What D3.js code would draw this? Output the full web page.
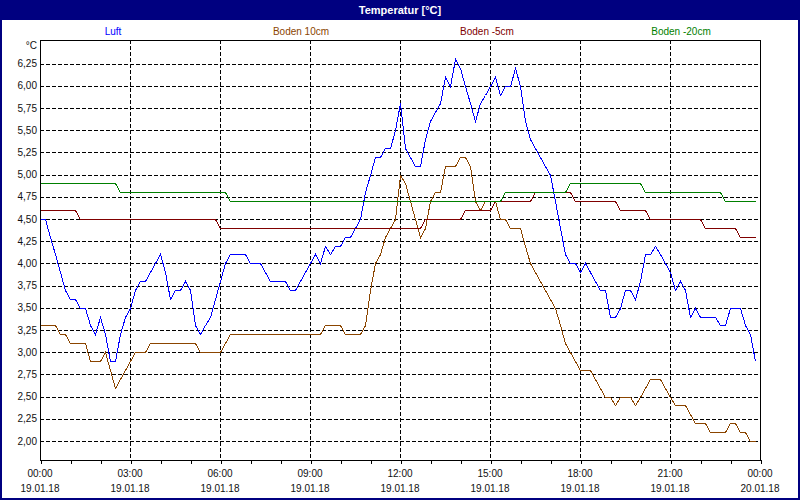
<!DOCTYPE html>
<html>
<head>
<meta charset="utf-8">
<script src="https://cdn.jsdelivr.net/npm/d3@7"></script>
<style>
  html, body { margin: 0; padding: 0; background: #fff; }
  svg { display: block; font-family: "Liberation Sans", Arial, sans-serif; }
</style>
</head>
<body>
<svg id="chart" width="800" height="500"></svg>
<script>
// ---------- data (10-minute samples, 19.01.18 00:00 .. 23:50) ----------
const title = "Temperatur [°C]";
const seriesNames = ["Luft", "Boden 10cm", "Boden -5cm", "Boden -20cm"];
const seriesColors = ["#0000ff", "#8b4500", "#800000", "#008000"];

const luft = [
  4.5,4.5,4.3,4.1,3.9,3.7,3.6,3.6,3.5,3.5,
  3.3,3.2,3.4,3.2,2.9,2.9,3.2,3.4,3.5,3.7,
  3.8,3.8,3.9,4.0,4.1,3.9,3.6,3.7,3.7,3.8,
  3.7,3.3,3.2,3.3,3.4,3.6,3.8,4.0,4.1,4.1,
  4.1,4.1,4.0,4.0,4.0,3.9,3.8,3.8,3.8,3.8,
  3.7,3.7,3.8,3.9,4.0,4.1,4.0,4.2,4.1,4.2,
  4.2,4.3,4.3,4.4,4.5,4.8,5.0,5.2,5.2,5.3,
  5.3,5.5,5.8,5.3,5.2,5.1,5.1,5.4,5.6,5.7,
  5.8,6.1,6.0,6.3,6.2,6.0,5.8,5.6,5.8,5.9,
  6.0,6.1,5.9,6.0,6.0,6.2,6.0,5.6,5.4,5.3,
  5.2,5.1,5.0,4.7,4.4,4.1,4.0,4.0,3.9,4.0,
  3.9,3.8,3.7,3.7,3.4,3.4,3.5,3.7,3.7,3.6,
  3.8,4.1,4.1,4.2,4.1,4.0,3.9,3.7,3.8,3.7,
  3.4,3.5,3.4,3.4,3.4,3.4,3.3,3.3,3.5,3.5,
  3.5,3.3,3.2,2.9
];
const boden10 = [
  3.3,3.3,3.3,3.3,3.2,3.2,3.1,3.1,3.1,3.1,
  2.9,2.9,2.9,3.0,2.8,2.6,2.7,2.8,2.9,3.0,
  3.0,3.0,3.1,3.1,3.1,3.1,3.1,3.1,3.1,3.1,
  3.1,3.1,3.0,3.0,3.0,3.0,3.0,3.1,3.2,3.2,
  3.2,3.2,3.2,3.2,3.2,3.2,3.2,3.2,3.2,3.2,
  3.2,3.2,3.2,3.2,3.2,3.2,3.2,3.3,3.3,3.3,
  3.3,3.2,3.2,3.2,3.2,3.3,3.7,4.0,4.1,4.3,
  4.4,4.5,5.0,4.9,4.7,4.5,4.3,4.4,4.7,4.8,
  4.8,5.1,5.1,5.1,5.2,5.2,5.1,4.7,4.6,4.7,
  4.7,4.7,4.5,4.5,4.4,4.4,4.4,4.2,4.0,3.9,
  3.8,3.7,3.6,3.5,3.3,3.1,3.0,2.9,2.8,2.8,
  2.8,2.7,2.6,2.5,2.5,2.4,2.5,2.5,2.5,2.4,
  2.5,2.6,2.7,2.7,2.7,2.6,2.5,2.4,2.4,2.4,
  2.3,2.2,2.2,2.2,2.1,2.1,2.1,2.1,2.2,2.2,
  2.1,2.1,2.0,2.0
];
const boden5 = [
  4.6,4.6,4.6,4.6,4.6,4.6,4.6,4.6,4.5,4.5,
  4.5,4.5,4.5,4.5,4.5,4.5,4.5,4.5,4.5,4.5,
  4.5,4.5,4.5,4.5,4.5,4.5,4.5,4.5,4.5,4.5,
  4.5,4.5,4.5,4.5,4.5,4.5,4.4,4.4,4.4,4.4,
  4.4,4.4,4.4,4.4,4.4,4.4,4.4,4.4,4.4,4.4,
  4.4,4.4,4.4,4.4,4.4,4.4,4.4,4.4,4.4,4.4,
  4.4,4.4,4.4,4.4,4.4,4.4,4.4,4.4,4.4,4.4,
  4.4,4.4,4.4,4.4,4.4,4.4,4.4,4.5,4.5,4.5,
  4.5,4.5,4.5,4.5,4.5,4.6,4.6,4.6,4.6,4.6,
  4.6,4.7,4.7,4.7,4.7,4.7,4.7,4.7,4.7,4.8,
  4.8,4.8,4.8,4.8,4.8,4.8,4.8,4.7,4.7,4.7,
  4.7,4.7,4.7,4.7,4.7,4.7,4.6,4.6,4.6,4.6,
  4.6,4.6,4.5,4.5,4.5,4.5,4.5,4.5,4.5,4.5,
  4.5,4.5,4.5,4.4,4.4,4.4,4.4,4.4,4.4,4.4,
  4.3,4.3,4.3,4.3
];
const boden20 = [
  4.9,4.9,4.9,4.9,4.9,4.9,4.9,4.9,4.9,4.9,
  4.9,4.9,4.9,4.9,4.9,4.9,4.8,4.8,4.8,4.8,
  4.8,4.8,4.8,4.8,4.8,4.8,4.8,4.8,4.8,4.8,
  4.8,4.8,4.8,4.8,4.8,4.8,4.8,4.8,4.7,4.7,
  4.7,4.7,4.7,4.7,4.7,4.7,4.7,4.7,4.7,4.7,
  4.7,4.7,4.7,4.7,4.7,4.7,4.7,4.7,4.7,4.7,
  4.7,4.7,4.7,4.7,4.7,4.7,4.7,4.7,4.7,4.7,
  4.7,4.7,4.7,4.7,4.7,4.7,4.7,4.7,4.7,4.7,
  4.7,4.7,4.7,4.7,4.7,4.7,4.7,4.7,4.7,4.7,
  4.7,4.7,4.7,4.8,4.8,4.8,4.8,4.8,4.8,4.8,
  4.8,4.8,4.8,4.8,4.8,4.8,4.9,4.9,4.9,4.9,
  4.9,4.9,4.9,4.9,4.9,4.9,4.9,4.9,4.9,4.9,
  4.9,4.8,4.8,4.8,4.8,4.8,4.8,4.8,4.8,4.8,
  4.8,4.8,4.8,4.8,4.8,4.8,4.8,4.7,4.7,4.7,
  4.7,4.7,4.7,4.7
];
const yTicks = [2.00,2.25,2.50,2.75,3.00,3.25,3.50,3.75,4.00,4.25,4.50,4.75,5.00,5.25,5.50,5.75,6.00,6.25];
const xTimeLabels = ["00:00","03:00","06:00","09:00","12:00","15:00","18:00","21:00","00:00"];
const xDateLabels = ["19.01.18","19.01.18","19.01.18","19.01.18","19.01.18","19.01.18","19.01.18","19.01.18","20.01.18"];

// ---------- layout ----------
const W = 800, H = 500;
const pL = 40, pR = 760, pT = 40, pB = 460;
const t0 = new Date(2018, 0, 19, 0, 0);
const t1 = new Date(2018, 0, 20, 0, 0);

const svg = d3.select("#chart");
const x = d3.scaleTime().domain([t0, t1]).range([pL, pR]);
const y = d3.scaleLinear().domain([1.785, 6.515]).range([pB, pT]);

// background & window frame
svg.append("rect").attr("x", 0).attr("y", 0).attr("width", W).attr("height", H).attr("fill", "#fff");
svg.append("rect").attr("x", 0).attr("y", 0).attr("width", W).attr("height", 20).attr("fill", "#000080");
svg.append("rect").attr("x", 0.5).attr("y", 0.5).attr("width", W - 1).attr("height", H - 1)
  .attr("fill", "none").attr("stroke", "#000080").attr("stroke-width", 1);
svg.append("rect").attr("x", 1.5).attr("y", 1.5).attr("width", W - 3).attr("height", H - 3)
  .attr("fill", "none").attr("stroke", "#000080").attr("stroke-width", 1);

svg.append("text").attr("x", W / 2).attr("y", 14).attr("text-anchor", "middle")
  .attr("fill", "#fff").attr("font-weight", "bold").attr("font-size", "11px").text(title);

// legend
const legendX = [113, 301, 487, 681];
svg.append("g").selectAll("text").data(seriesNames).join("text")
  .attr("x", (d, i) => legendX[i]).attr("y", 35).attr("text-anchor", "middle")
  .attr("font-size", "10px").attr("fill", (d, i) => seriesColors[i]).text(d => d);

// gridlines
const grid = svg.append("g").attr("stroke", "#000").attr("stroke-width", 1)
  .attr("stroke-dasharray", "4,2").attr("shape-rendering", "crispEdges");
grid.selectAll("line.h").data(yTicks).join("line").attr("class", "h")
  .attr("x1", pL).attr("x2", pR)
  .attr("y1", d => Math.round(y(d)) + 0.5).attr("y2", d => Math.round(y(d)) + 0.5);
const majorTimes = d3.timeHour.every(3).range(t0, d3.timeMinute.offset(t1, 1));
grid.selectAll("line.v").data(majorTimes.slice(1, -1)).join("line").attr("class", "v")
  .attr("y1", pT).attr("y2", pB)
  .attr("x1", d => Math.round(x(d)) + 0.5).attr("x2", d => Math.round(x(d)) + 0.5);

// y axis labels
const yAxis = d3.axisLeft(y).tickValues(yTicks).tickSize(0).tickPadding(3)
  .tickFormat(d => d.toFixed(2).replace(".", ","));
const gy = svg.append("g").attr("transform", `translate(${pL},0)`).call(yAxis);
gy.select(".domain").remove();
gy.selectAll("text").attr("font-size", "10px").attr("fill", "#101010")
  .attr("font-family", "'Liberation Sans', Arial, sans-serif");
svg.append("text").attr("x", 37).attr("y", 49).attr("text-anchor", "end")
  .attr("font-size", "10px").attr("fill", "#101010").text("°C");

// x axis minor ticks every hour
const xAxis = d3.axisBottom(x).ticks(d3.timeHour.every(1)).tickSize(4).tickFormat("");
const gx = svg.append("g").attr("transform", `translate(0.5,${pB})`).call(xAxis);
gx.select(".domain").remove();
gx.selectAll("line").attr("shape-rendering", "crispEdges");

// x labels (two lines)
const lab = svg.append("g").attr("font-size", "10px").attr("fill", "#101010").attr("text-anchor", "middle");
lab.selectAll("text.t").data(majorTimes).join("text").attr("class", "t")
  .attr("x", d => x(d)).attr("y", 477).text((d, i) => xTimeLabels[i]);
lab.selectAll("text.d").data(majorTimes).join("text").attr("class", "d")
  .attr("x", d => x(d)).attr("y", 492).text((d, i) => xDateLabels[i]);

// plot box
svg.append("rect").attr("x", pL + 0.5).attr("y", pT + 0.5)
  .attr("width", pR - pL).attr("height", pB - pT)
  .attr("fill", "none").attr("stroke", "#000").attr("stroke-width", 1)
  .attr("shape-rendering", "crispEdges");

// series lines
const allSeries = [luft, boden10, boden5, boden20];
const line = d3.line()
  .x((d, i) => x(d3.timeMinute.offset(t0, 10 * i)) + 0.5)
  .y(d => Math.round(y(d)) + 0.5);
svg.append("g").selectAll("path").data(allSeries).join("path")
  .attr("d", d => line(d))
  .attr("fill", "none")
  .attr("stroke", (d, i) => seriesColors[i])
  .attr("stroke-width", 1)
  .attr("shape-rendering", "crispEdges");
</script>
</body>
</html>
